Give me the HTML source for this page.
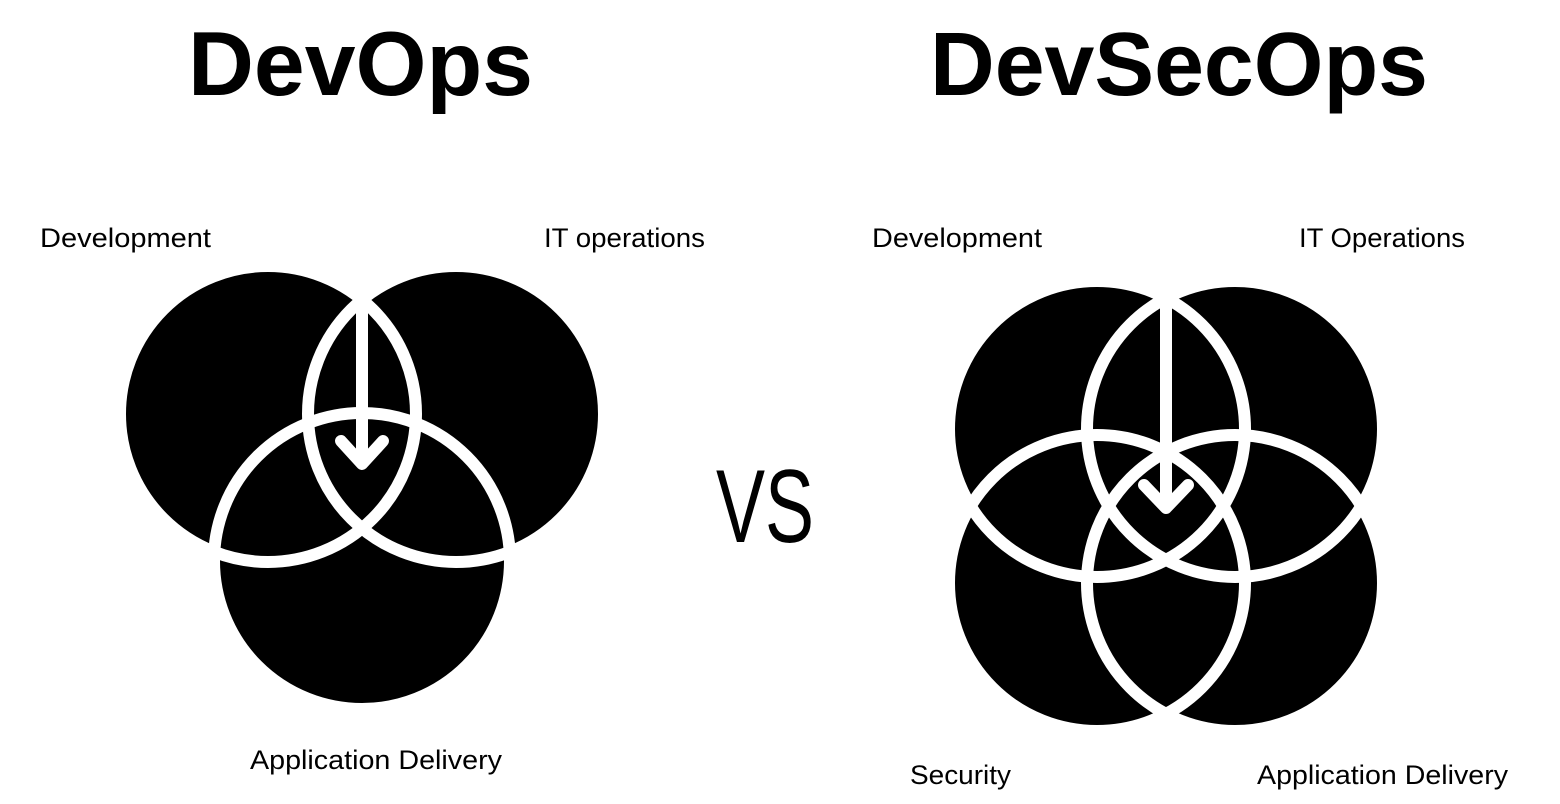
<!DOCTYPE html>
<html><head><meta charset="utf-8"><style>html,body{margin:0;padding:0;background:#fff;width:1560px;height:804px;overflow:hidden}</style></head>
<body>
<svg width="1560" height="804" viewBox="0 0 1560 804" xmlns="http://www.w3.org/2000/svg" font-family="Liberation Sans, sans-serif">
<rect width="1560" height="804" fill="#fff"/>
<text x="188" y="95" font-size="91" font-weight="bold" textLength="345" lengthAdjust="spacingAndGlyphs">DevOps</text>
<text x="930" y="95" font-size="90" font-weight="bold" textLength="498" lengthAdjust="spacingAndGlyphs">DevSecOps</text>
<g font-size="27">
<text x="40" y="247" textLength="171" lengthAdjust="spacingAndGlyphs">Development</text>
<text x="544" y="247" textLength="161" lengthAdjust="spacingAndGlyphs">IT operations</text>
<text x="250" y="769" textLength="252" lengthAdjust="spacingAndGlyphs">Application Delivery</text>
<text x="872" y="247" textLength="170" lengthAdjust="spacingAndGlyphs">Development</text>
<text x="1299" y="247" textLength="166" lengthAdjust="spacingAndGlyphs">IT Operations</text>
<text x="910" y="784" textLength="101" lengthAdjust="spacingAndGlyphs">Security</text>
<text x="1257" y="784" textLength="251" lengthAdjust="spacingAndGlyphs">Application Delivery</text>
</g>
<text x="716" y="542" font-size="104" textLength="98" lengthAdjust="spacingAndGlyphs">VS</text>
<g fill="#000">
<circle cx="268" cy="414" r="148"/><circle cx="456" cy="414" r="148"/><circle cx="362" cy="561" r="148"/>
<circle cx="1097" cy="429" r="148"/><circle cx="1235" cy="429" r="148"/><circle cx="1097" cy="583" r="148"/><circle cx="1235" cy="583" r="148"/>
</g>
<g fill="none" stroke="#fff" stroke-width="12" stroke-linecap="round" stroke-linejoin="round">
<circle cx="268" cy="414" r="148"/><circle cx="456" cy="414" r="148"/><circle cx="362" cy="561" r="148"/>
<circle cx="1097" cy="429" r="148"/><circle cx="1235" cy="429" r="148"/><circle cx="1097" cy="583" r="148"/><circle cx="1235" cy="583" r="148"/>
<line x1="362" y1="300" x2="362" y2="462" stroke-linecap="butt"/>
<polyline points="341,441 362,464 383,441"/>
<line x1="1166" y1="300" x2="1166" y2="505" stroke-linecap="butt"/>
<polyline points="1144,485 1166,508 1188,485"/>
</g>
</svg>
</body></html>
